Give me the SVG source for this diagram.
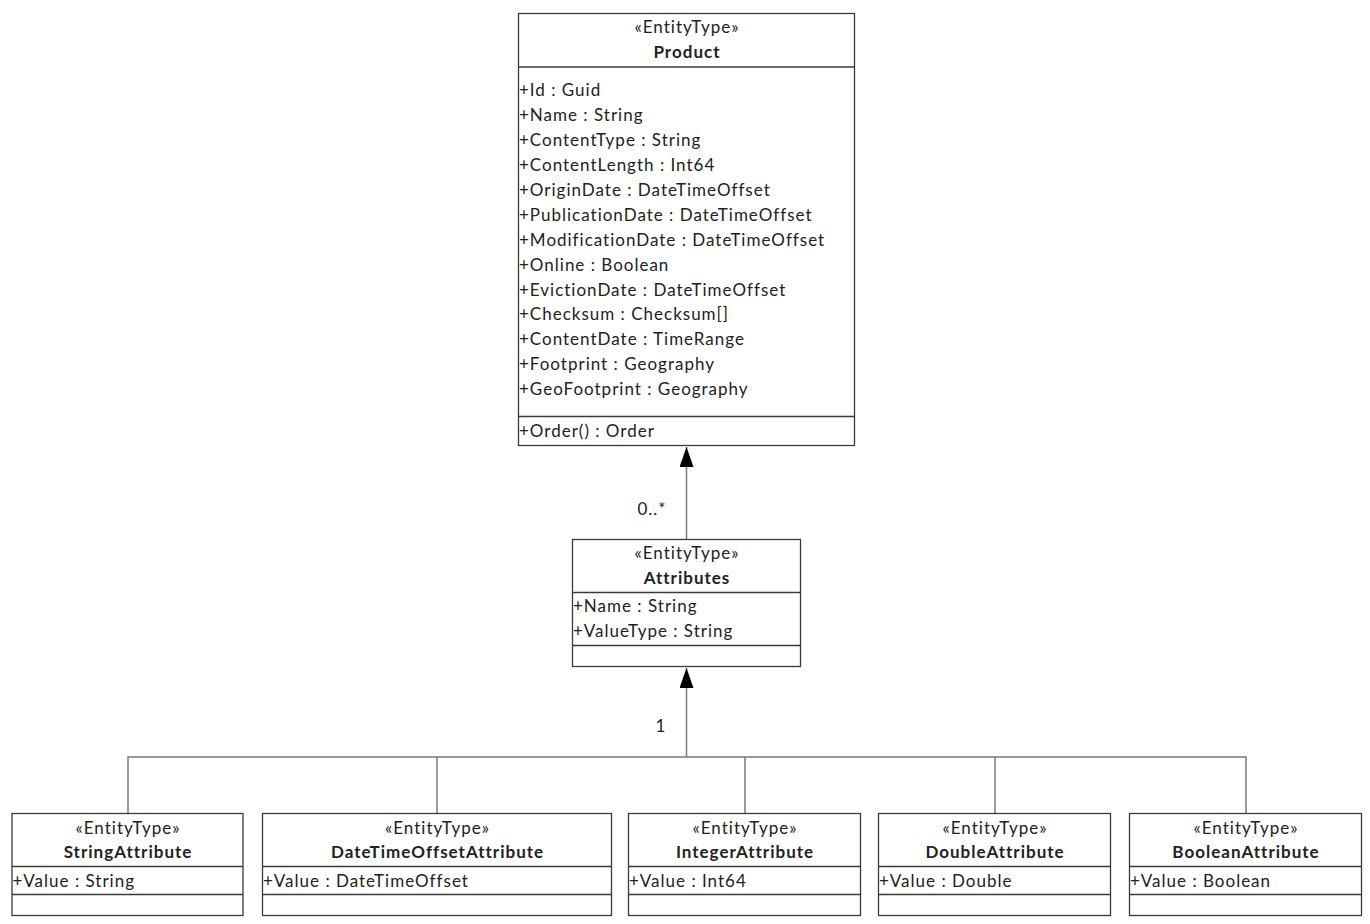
<svg xmlns="http://www.w3.org/2000/svg" width="1370" height="924" viewBox="0 0 1370 924">
<style>
.box{fill:#fff;stroke:#3a3a3a;stroke-width:1.3}
.sep{stroke:#3a3a3a;stroke-width:1.3}
text{font-family:Lato,"Open Sans",sans-serif;font-size:17px;fill:#222;letter-spacing:1px}
.c{text-anchor:middle}
.b{font-weight:bold}
.con{stroke:#7a7a7a;stroke-width:1.5;fill:none}
</style>
<defs>
<marker id="tri" markerWidth="14" markerHeight="20" refX="7" refY="0" orient="0" markerUnits="userSpaceOnUse" viewBox="0 0 14 20">
<path d="M0,20 L7,0 L14,20 Z" fill="#000"/>
</marker>
</defs>
<g id="connectors">
<line class="con" x1="686.5" y1="539" x2="686.5" y2="447" marker-end="url(#tri)"/>
<line class="con" x1="686.5" y1="757" x2="686.5" y2="668" marker-end="url(#tri)"/>
<polyline class="con" points="128,813 128,757 1246,757 1246,813"/>
<line class="con" x1="437" y1="757" x2="437" y2="813"/>
<line class="con" x1="745" y1="757" x2="745" y2="813"/>
<line class="con" x1="995" y1="757" x2="995" y2="813"/>
<text x="652" y="515" class="c">0..*</text>
<text x="661" y="732" class="c">1</text>
</g>
<g id="Product">
<rect class="box" x="518.5" y="13.5" width="336" height="432"/>
<line class="sep" x1="518.5" y1="67" x2="854.5" y2="67"/>
<line class="sep" x1="518.5" y1="416.5" x2="854.5" y2="416.5"/>
<text x="687" y="33" class="c">«EntityType»</text>
<text x="687" y="58" class="c b">Product</text>
<text x="519" y="96">+Id : Guid</text>
<text x="519" y="121">+Name : String</text>
<text x="519" y="146">+ContentType : String</text>
<text x="519" y="171">+ContentLength : Int64</text>
<text x="519" y="196">+OriginDate : DateTimeOffset</text>
<text x="519" y="221">+PublicationDate : DateTimeOffset</text>
<text x="519" y="246">+ModificationDate : DateTimeOffset</text>
<text x="519" y="271">+Online : Boolean</text>
<text x="519" y="296">+EvictionDate : DateTimeOffset</text>
<text x="519" y="320">+Checksum : Checksum[]</text>
<text x="519" y="345">+ContentDate : TimeRange</text>
<text x="519" y="370">+Footprint : Geography</text>
<text x="519" y="395">+GeoFootprint : Geography</text>
<text x="519" y="437">+Order() : Order</text>
</g>
<g id="Attributes">
<rect class="box" x="572.5" y="539.5" width="228" height="127"/>
<line class="sep" x1="572.5" y1="592.5" x2="800.5" y2="592.5"/>
<line class="sep" x1="572.5" y1="645.5" x2="800.5" y2="645.5"/>
<text x="687" y="559" class="c">«EntityType»</text>
<text x="687" y="584" class="c b">Attributes</text>
<text x="573" y="612">+Name : String</text>
<text x="573" y="637">+ValueType : String</text>
</g>
<g id="StringAttribute">
<rect class="box" x="12" y="813.5" width="231" height="102"/>
<line class="sep" x1="12" y1="866.5" x2="243" y2="866.5"/>
<line class="sep" x1="12" y1="894.5" x2="243" y2="894.5"/>
<text x="128" y="834" class="c">«EntityType»</text>
<text x="128" y="858" class="c b">StringAttribute</text>
<text x="12.5" y="887">+Value : String</text>
</g>
<g id="DateTimeOffsetAttribute">
<rect class="box" x="262.5" y="813.5" width="349" height="102"/>
<line class="sep" x1="262.5" y1="866.5" x2="611.5" y2="866.5"/>
<line class="sep" x1="262.5" y1="894.5" x2="611.5" y2="894.5"/>
<text x="437.5" y="834" class="c">«EntityType»</text>
<text x="437.5" y="858" class="c b">DateTimeOffsetAttribute</text>
<text x="263" y="887">+Value : DateTimeOffset</text>
</g>
<g id="IntegerAttribute">
<rect class="box" x="628.5" y="813.5" width="232" height="102"/>
<line class="sep" x1="628.5" y1="866.5" x2="860.5" y2="866.5"/>
<line class="sep" x1="628.5" y1="894.5" x2="860.5" y2="894.5"/>
<text x="745" y="834" class="c">«EntityType»</text>
<text x="745" y="858" class="c b">IntegerAttribute</text>
<text x="629" y="887">+Value : Int64</text>
</g>
<g id="DoubleAttribute">
<rect class="box" x="878.5" y="813.5" width="232" height="102"/>
<line class="sep" x1="878.5" y1="866.5" x2="1110.5" y2="866.5"/>
<line class="sep" x1="878.5" y1="894.5" x2="1110.5" y2="894.5"/>
<text x="995" y="834" class="c">«EntityType»</text>
<text x="995" y="858" class="c b">DoubleAttribute</text>
<text x="879" y="887">+Value : Double</text>
</g>
<g id="BooleanAttribute">
<rect class="box" x="1129.5" y="813.5" width="232" height="102"/>
<line class="sep" x1="1129.5" y1="866.5" x2="1361.5" y2="866.5"/>
<line class="sep" x1="1129.5" y1="894.5" x2="1361.5" y2="894.5"/>
<text x="1246" y="834" class="c">«EntityType»</text>
<text x="1246" y="858" class="c b">BooleanAttribute</text>
<text x="1130" y="887">+Value : Boolean</text>
</g>
</svg>
